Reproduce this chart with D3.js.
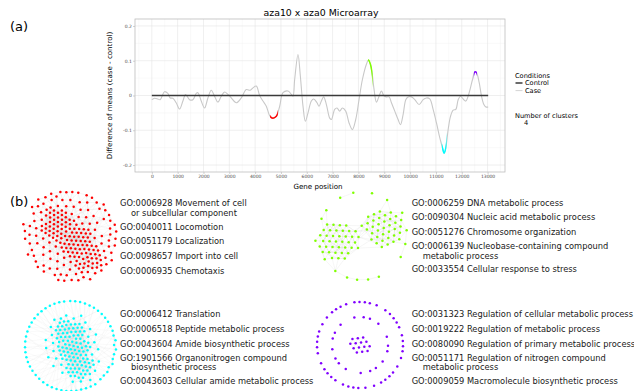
<!DOCTYPE html>
<html>
<head>
<meta charset="utf-8">
<script src="https://cdn.jsdelivr.net/npm/d3@7"></script>
<style>
body{margin:0;background:#fff}
svg{display:block;font-family:"DejaVu Sans",Verdana,sans-serif}
</style>
</head>
<body>
<svg id="fig" width="634" height="391"></svg>
<script>
// (a) smoothed difference of means along the gene position
const genePos = [0,105,234,324,492,621,712,815,944,1074,1203,1306,1461,1590,1720,1784,1913,2043,2172,2301,2430,2559,2689,2818,2947,3076,3270,3464,3658,3813,3916,4045,4174,4304,4433,4562,4665,4820,4950,5079,5273,5402,5466,5531,5660,5751,5854,5945,6048,6177,6267,6397,6474,6565,6655,6759,6888,6952,7081,7171,7275,7378,7508,7637,7766,7895,8024,8154,8309,8386,8464,8528,8606,8696,8799,8890,8981,9084,9188,9278,9407,9536,9627,9730,9833,9924,10053,10182,10350,10505,10634,10763,10892,11022,11151,11254,11319,11384,11474,11565,11668,11771,11862,11952,12056,12159,12288,12417,12508,12572,12676,12766,12857,12934,13024];
const diffMeans = [-0.012,-0.008,-0.010,-0.012,0.011,0.006,-0.007,-0.008,-0.021,-0.039,-0.016,0.003,-0.012,-0.012,0.006,0.008,-0.016,-0.036,-0.007,0.015,-0.002,-0.019,-0.002,0.010,0.003,-0.007,-0.021,-0.007,0.017,0.015,0.022,0.027,0.000,-0.016,-0.031,-0.058,-0.065,-0.060,-0.031,0.008,0.013,0.003,-0.002,0.046,0.118,0.056,-0.031,-0.074,-0.050,-0.016,-0.010,-0.021,-0.031,-0.016,-0.004,-0.026,-0.065,-0.069,-0.040,-0.036,-0.045,-0.036,-0.045,-0.079,-0.098,-0.069,-0.012,0.046,0.090,0.102,0.090,0.066,0.017,-0.019,-0.002,0.013,0.000,-0.004,-0.004,-0.021,-0.045,-0.069,-0.084,-0.055,-0.012,-0.004,-0.004,-0.012,-0.026,-0.012,-0.007,-0.010,-0.040,-0.079,-0.122,-0.151,-0.166,-0.151,-0.098,-0.060,-0.042,-0.040,-0.012,-0.002,-0.010,-0.016,0.008,0.046,0.068,0.066,0.037,-0.002,-0.026,-0.033,-0.033];
const controlPos = [0, 13024];
const controlVal = [0, 0];

// significant regions (one per cluster)
const clusterFrom = [4580, 8370, 11230, 12470];
const clusterTo = [4880, 8550, 11410, 12590];
const clusterColor = ["#ff0000", "#80ff00", "#00ffff", "#8000ff"];

const xTicks = d3.range(0, 13001, 1000);
const yTicks = [-0.2, -0.1, 0, 0.1, 0.2];
const yTickLabels = ["-0.2", "-0.1", "0", "0.1", "0.2"];
const conditions = ["Control", "Case"];
const nClusters = "4";

// (b) enriched GO terms per cluster
const goRed = [["GO:0006928 Movement of cell", "or subcellular component"], ["GO:0040011 Locomotion"], ["GO:0051179 Localization"], ["GO:0098657 Import into cell"], ["GO:0006935 Chemotaxis"]];
const goGreen = [["GO:0006259 DNA metabolic process"], ["GO:0090304 Nucleic acid metabolic process"], ["GO:0051276 Chromosome organization"], ["GO:0006139 Nucleobase-containing compound", "metabolic process"], ["GO:0033554 Cellular response to stress"]];
const goCyan = [["GO:0006412 Translation"], ["GO:0006518 Peptide metabolic process"], ["GO:0043604 Amide biosynthetic process"], ["GO:1901566 Organonitrogen compound", "biosynthetic process"], ["GO:0043603 Cellular amide metabolic process"]];
const goPurple = [["GO:0031323 Regulation of cellular metabolic process"], ["GO:0019222 Regulation of metabolic process"], ["GO:0080090 Regulation of primary metabolic process"], ["GO:0051171 Regulation of nitrogen compound", "metabolic process"], ["GO:0009059 Macromolecule biosynthetic process"]];

// node groups of each network: ring (radius) or blob (offset), node counts, spacing
const netRed = [{ring: 43, n: 44, gap: 6}, {x: 0, y: 0, n: 58, gap: 7.5, loose: true}, {x: -12, y: -10, n: 40, gap: 4.6}, {x: 4, y: 6, n: 45, gap: 4.6}, {x: 17, y: 22, n: 30, gap: 4.6}];
const netGreen = [{x: -24, y: 5, n: 38, gap: 6.4}, {x: 22, y: -8, n: 36, gap: 6.4}, {ring: 44, n: 17, gap: 8}];
const netCyan = [{ring: 45, n: 56, gap: 5}, {x: 0, y: 0, n: 26, gap: 8, loose: true}, {x: 0, y: -12, n: 36, gap: 4.3}, {x: 4, y: 4, n: 36, gap: 4.3}, {x: 10, y: 20, n: 30, gap: 4.3}];
const netPurple = [{ring: 43, n: 42, gap: 5}, {ring: 28, n: 18, gap: 5}, {x: 0, y: 0, n: 14, gap: 5.4}];

const svg = d3.select("#fig");
svg.append("rect").attr("width", 634).attr("height", 391).attr("fill", "#fff");

// ---------- panel (a) ----------
const P = {l: 135, r: 505, t: 19, b: 172};
const xMin = d3.min(genePos), xMax = d3.max(genePos), span = xMax - xMin;
const x = d3.scaleLinear().domain([xMin - span * 0.05, xMax + span * 0.05]).range([P.l, P.r]);
const y = d3.scaleLinear().domain([-0.22, 0.22]).range([P.b, P.t]);

const grid = svg.append("g");
const xMinor = d3.range(-500, 14000, 1000).filter(v => v > x.domain()[0] && v < x.domain()[1]);
const yMinor = [-0.15, -0.05, 0.05, 0.15];
grid.selectAll(".xm").data(xMinor).join("line")
  .attr("x1", d => x(d)).attr("x2", d => x(d)).attr("y1", P.t).attr("y2", P.b)
  .attr("stroke", "#f0f0f0").attr("stroke-width", 0.4);
grid.selectAll(".ym").data(yMinor).join("line")
  .attr("x1", P.l).attr("x2", P.r).attr("y1", d => y(d)).attr("y2", d => y(d))
  .attr("stroke", "#f0f0f0").attr("stroke-width", 0.4);
grid.selectAll(".xM").data(xTicks).join("line")
  .attr("x1", d => x(d)).attr("x2", d => x(d)).attr("y1", P.t).attr("y2", P.b)
  .attr("stroke", "#e4e4e4").attr("stroke-width", 0.6);
grid.selectAll(".yM").data(yTicks).join("line")
  .attr("x1", P.l).attr("x2", P.r).attr("y1", d => y(d)).attr("y2", d => y(d))
  .attr("stroke", "#e4e4e4").attr("stroke-width", 0.6);

const casePts = genePos.map((g, i) => [g, diffMeans[i]]);
const line = d3.line().x(d => x(d[0])).y(d => y(d[1])).curve(d3.curveCatmullRom.alpha(0.5));

svg.append("path").attr("d", line(casePts))
  .attr("fill", "none").attr("stroke", "#c8c8c8").attr("stroke-width", 1.1);

svg.append("path").attr("d", d3.line().x(d => x(d[0])).y(d => y(d[1]))(controlPos.map((p, i) => [p, controlVal[i]])))
  .attr("fill", "none").attr("stroke", "#3a3a3a").attr("stroke-width", 1.5);

const defs = svg.append("defs");
clusterFrom.forEach((f, i) => {
  defs.append("clipPath").attr("id", "cl" + i).append("rect")
    .attr("x", x(f)).attr("width", x(clusterTo[i]) - x(f))
    .attr("y", P.t).attr("height", P.b - P.t);
  svg.append("path").attr("d", line(casePts)).attr("clip-path", `url(#cl${i})`)
    .attr("fill", "none").attr("stroke", clusterColor[i]).attr("stroke-width", 1.5);
});

svg.append("rect").attr("x", P.l).attr("y", P.t).attr("width", P.r - P.l).attr("height", P.b - P.t)
  .attr("fill", "none").attr("stroke", "#bdbdbd").attr("stroke-width", 0.8);

const styleAxis = g => {
  g.select(".domain").remove();
  g.selectAll(".tick line").attr("stroke", "#b3b3b3").attr("stroke-width", 0.6);
  g.selectAll(".tick text").attr("fill", "#4d4d4d").style("font-size", "4.5px").style("font-family", "DejaVu Sans");
};
svg.append("g").attr("transform", `translate(0,${P.b})`)
  .call(d3.axisBottom(x).tickValues(xTicks).tickFormat(d3.format("d")).tickSize(2).tickPadding(1.2))
  .call(styleAxis);
svg.append("g").attr("transform", `translate(${P.l},0)`)
  .call(d3.axisLeft(y).tickValues(yTicks).tickFormat((d, i) => yTickLabels[i]).tickSize(2).tickPadding(1.2))
  .call(styleAxis);

svg.append("text").attr("x", (P.l + P.r) / 2 + 1).attr("y", 15.5).attr("text-anchor", "middle")
  .style("font-size", "9.4px").text("aza10 x aza0 Microarray");
svg.append("text").attr("x", (P.l + P.r) / 2 - 2).attr("y", 189.2).attr("text-anchor", "middle")
  .style("font-size", "7.1px").text("Gene position");
svg.append("text").attr("transform", `translate(111.5,${(P.t + P.b) / 2}) rotate(-90)`).attr("text-anchor", "middle")
  .style("font-size", "7.1px").text("Difference of means (case - control)");

// legend
const lg = svg.append("g").style("font-size", "6.6px");
lg.append("text").attr("x", 515).attr("y", 77.5).text("Conditions");
conditions.forEach((c, i) => {
  const ly = 83 + i * 7.6;
  lg.append("line").attr("x1", 515.5).attr("x2", 522.5).attr("y1", ly).attr("y2", ly)
    .attr("stroke", i === 0 ? "#3a3a3a" : "#c8c8c8").attr("stroke-width", i === 0 ? 1.5 : 0.8);
  lg.append("text").attr("x", 525).attr("y", ly + 2.3).text(c);
});
lg.append("text").attr("x", 515).attr("y", 117.8).text("Number of clusters");
lg.append("text").attr("x", 524).attr("y", 125.3).text(nClusters);

svg.append("text").attr("x", 10).attr("y", 31).style("font-size", "13px").text("(a)");
svg.append("text").attr("x", 10).attr("y", 206).style("font-size", "13px").text("(b)");

// ---------- panel (b) ----------
function drawNetwork(groups, cx, cy, color, opts) {
  const nodes = [];
  groups.forEach((g, gi) => { for (let k = 0; k < g.n; k++) nodes.push({g: gi}); });
  const G = d => groups[d.g];
  const pull = d => G(d).ring ? 0 : (G(d).loose ? 0.03 : 0.12);
  const sim = d3.forceSimulation(nodes)
    .force("collide", d3.forceCollide(d => G(d).gap / 2).strength(0.8).iterations(2))
    .force("x", d3.forceX(d => G(d).x || 0).strength(pull))
    .force("y", d3.forceY(d => G(d).y || 0).strength(pull))
    .force("r", d3.forceRadial(d => G(d).ring || 0, 0, 0).strength(d => G(d).ring ? 0.5 : 0))
    .stop();
  for (let k = 0; k < 220; k++) sim.tick();

  const g = svg.append("g").attr("transform", `translate(${cx},${cy})`);
  const edges = [];
  const del = d3.Delaunay.from(nodes, d => d.x, d => d.y);
  const seen = new Set();
  for (let t = 0; t < del.triangles.length; t++) {
    const a = del.triangles[t], b = del.triangles[t % 3 === 2 ? t - 2 : t + 1];
    const key = a < b ? a + "-" + b : b + "-" + a;
    if (seen.has(key)) continue;
    seen.add(key);
    const A = nodes[a], B = nodes[b];
    if (Math.hypot(A.x - B.x, A.y - B.y) > opts.mesh) continue;
    if (opts.meshGroups && !(opts.meshGroups.includes(A.g) && opts.meshGroups.includes(B.g))) continue;
    edges.push([A, B]);
  }
  // second-neighbour links thicken the haze in dense parts
  const core = nodes.filter(d => !G(d).ring && !G(d).loose);
  if (opts.haze) core.forEach((c, k) => {
    [5, 11, 17].forEach(s => {
      const o = core[(k + s) % core.length];
      if (Math.hypot(c.x - o.x, c.y - o.y) < opts.haze) edges.push([c, o]);
    });
  });
  g.append("g").attr("stroke", "#c8c8c8").attr("stroke-width", 0.35).attr("stroke-opacity", 0.5)
    .selectAll("line").data(edges).join("line")
    .attr("x1", d => d[0].x).attr("y1", d => d[0].y).attr("x2", d => d[1].x).attr("y2", d => d[1].y);

  if (opts.spokes) {
    const outer = nodes.filter(d => G(d).ring || G(d).loose);
    const spokes = [];
    outer.forEach((o, k) => { spokes.push([o, core[(k * 13) % core.length]]); spokes.push([o, core[(k * 29 + 7) % core.length]]); });
    g.append("g").attr("stroke", "#d0d0d0").attr("stroke-width", 0.3).attr("stroke-opacity", 0.35)
      .selectAll("line").data(spokes).join("line")
      .attr("x1", d => d[0].x).attr("y1", d => d[0].y).attr("x2", d => d[1].x).attr("y2", d => d[1].y);
  }
  g.append("g").selectAll("circle").data(nodes).join("circle")
    .attr("cx", d => d.x).attr("cy", d => d.y).attr("r", 1.25).attr("fill", color);
}

drawNetwork(netRed, 70, 235, clusterColor[0], {mesh: 12, spokes: true, haze: 30});
drawNetwork(netGreen, 362, 236, clusterColor[1], {mesh: 16, spokes: false, haze: 26});
drawNetwork(netCyan, 70, 346, clusterColor[2], {mesh: 10, spokes: true, haze: 34});
drawNetwork(netPurple, 360, 345, clusterColor[3], {mesh: 12, spokes: false, meshGroups: [2]});

// wrapped terms: two lines kept close together, as in the reference
const termGap = 14.8;
function drawTerms(terms, x0, y0) {
  const g = svg.append("g").style("font-size", "8.3px").attr("fill", "#1a1a1a");
  let yy = y0;
  terms.forEach(t => {
    t.forEach((ln, j) => {
      const ty = t.length > 1 ? (j ? yy + 8.7 : yy - 0.8) : yy;
      g.append("text").attr("x", j ? x0 + 11 : x0).attr("y", ty).attr("dy", "0.35em").text(ln);
    });
    yy += 7.5 * (t.length - 1) + termGap;
  });
}
drawTerms(goRed, 120, 204.3);
drawTerms(goGreen, 411.7, 202.7);
drawTerms(goCyan, 120, 314.3);
drawTerms(goPurple, 411.7, 314.3);
</script>
</body>
</html>
